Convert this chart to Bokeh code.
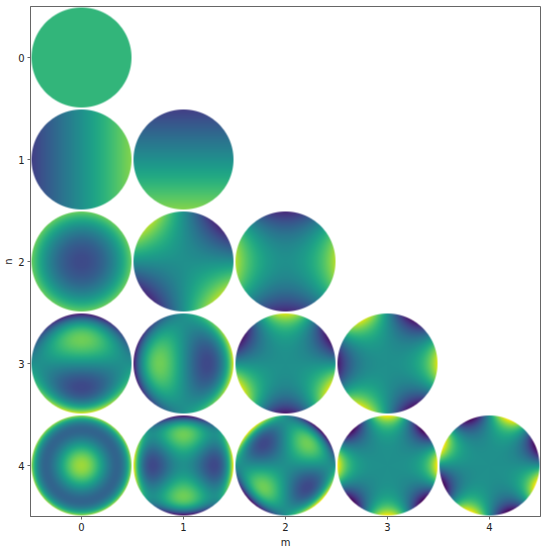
import numpy as np
from bokeh.plotting import figure
from bokeh.models import FixedTicker
from bokeh.palettes import Viridis256
from bokeh.colors import RGB
from bokeh.embed import file_html
from bokeh.resources import INLINE

# panel rows (n) and columns (m), Zernike modes shown as a triangle
rows = [0, 1, 1, 2, 2, 2, 3, 3, 3, 3, 4, 4, 4, 4, 4]
cols = [0, 0, 1, 0, 1, 2, 0, 1, 2, 3, 0, 1, 2, 3, 4]
# radial polynomial coefficients, as (power of r, coefficient)
radial = [
    [(0, 1)],
    [(1, 2)], [(1, 2)],
    [(2, 2 * 3 ** .5), (0, -3 ** .5)], [(2, 6 ** .5)], [(2, 6 ** .5)],
    [(3, 3 * 8 ** .5), (1, -2 * 8 ** .5)], [(3, 3 * 8 ** .5), (1, -2 * 8 ** .5)], [(3, 8 ** .5)], [(3, 8 ** .5)],
    [(4, 6 * 5 ** .5), (2, -6 * 5 ** .5), (0, 5 ** .5)],
    [(4, 4 * 10 ** .5), (2, -3 * 10 ** .5)], [(4, 4 * 10 ** .5), (2, -3 * 10 ** .5)],
    [(4, 10 ** .5)], [(4, 10 ** .5)],
]
# azimuthal order and angular function of each panel
order = [0, 1, 1, 0, 2, 2, 1, 1, 3, 3, 0, 2, 2, 4, 4]
angular = ["c", "c", "s", "c", "s", "c", "s", "c", "s", "c", "c", "c", "s", "c", "s"]
tick_labels = ["0", "1", "2", "3", "4"]
color_limit = 10 ** .5

RES = 100
DISC = 50 / 102
g = (np.arange(RES) + 0.5) / RES * 2 - 1
xx, yy = np.meshgrid(g, g)
rr = np.hypot(xx, yy)
tt = np.arctan2(yy, xx)
lut = np.array([[int(c[1:3], 16), int(c[3:5], 16), int(c[5:7], 16)] for c in Viridis256], dtype=np.uint8)
alpha = (np.clip((1 - rr) * RES / 2 + 0.5, 0, 1) * 255).astype(np.uint8)

p = figure(frame_width=510, frame_height=510, x_range=(-0.5, 4.5), y_range=(4.5, -0.5),
           output_backend="svg", toolbar_location=None, tools="",
           min_border_left=30, min_border_right=4, min_border_top=0, min_border_bottom=28,
           margin=(6, 0, 0, 0), x_axis_label="m", y_axis_label="n")

for n, m, rad, k, a in zip(rows, cols, radial, order, angular):
    z = sum(c * rr ** e for e, c in rad)
    if k:
        z = z * (np.cos(k * tt) if a == "c" else np.sin(k * tt))
    idx = np.clip(((z + color_limit) / (2 * color_limit) * 256).astype(int), 0, 255)
    rgba = np.dstack([lut[idx], alpha]).astype(np.uint8).view(np.uint32).reshape(RES, RES)
    p.image_rgba(image=[rgba], x=m - DISC, y=n - DISC, dw=2 * DISC, dh=2 * DISC)

p.grid.visible = False
for ax in (p.xaxis[0], p.yaxis[0]):
    ax.ticker = FixedTicker(ticks=list(range(len(tick_labels))))
    ax.major_label_overrides = {i: t for i, t in enumerate(tick_labels)}
    ax.minor_tick_line_color = None
    ax.major_tick_in = 0
    ax.major_tick_out = 3
    ax.major_tick_line_color = "#666666"
    ax.axis_line_color = "#666666"
    ax.major_label_text_font = "DejaVu Sans"
    ax.major_label_text_font_size = "10px"
    ax.major_label_text_color = "#222222"
    ax.axis_label_text_font = "DejaVu Sans"
    ax.axis_label_text_font_size = "10px"
    ax.axis_label_text_font_style = "normal"
    ax.axis_label_text_color = "#222222"
p.xaxis[0].major_label_standoff = 3
p.xaxis[0].axis_label_standoff = 3
p.yaxis[0].major_label_standoff = 3
p.yaxis[0].axis_label_standoff = 1
p.yaxis[0].major_label_orientation = "horizontal"
p.outline_line_color = "#666666"

open("out.html", "w").write(file_html(p, INLINE))
